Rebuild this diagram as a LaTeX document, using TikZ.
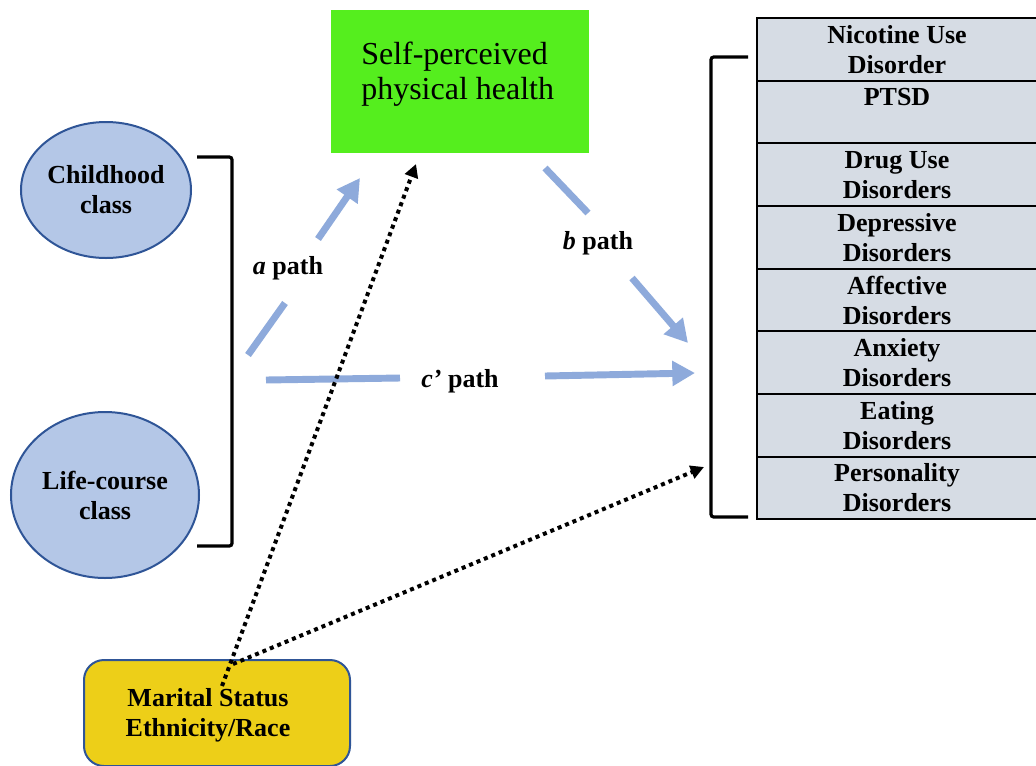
\documentclass[tikz,border=0pt]{standalone}
\usepackage{fontspec}
\setmainfont{Liberation Serif}
\usetikzlibrary{arrows.meta,positioning,shapes.geometric}
\definecolor{ink}{HTML}{000000}
\definecolor{navy}{HTML}{2F5597}
\definecolor{skyfill}{HTML}{B4C7E7}
\definecolor{limefill}{HTML}{55EE1E}
\definecolor{mustard}{HTML}{EDCF18}
\definecolor{greyblue}{HTML}{D6DCE4}
\definecolor{pathblue}{HTML}{8EAADB}
\tikzset{
  >=Latex,
  every node/.style={font=\fontsize{19.5}{22.5}\selectfont\bfseries,text=ink},
  classnode/.style={ellipse,draw=navy,line width=1.5pt,fill=skyfill,align=center,inner sep=0pt},
  healthbox/.style={draw=none,fill=limefill,minimum width=193.5pt,minimum height=107pt},
  outcome/.style={draw=ink,line width=1.5pt,fill=greyblue,align=center,minimum width=210pt,minimum height=47pt,inner sep=0pt,outer sep=0pt},
  covbox/.style={draw=navy,line width=1.5pt,fill=mustard,rounded corners=15pt,minimum width=199.5pt,minimum height=79.5pt},
  pathseg/.style={line width=5.2pt,draw=pathblue},
  patharr/.style={pathseg,-{Triangle[length=17pt,width=18pt]}},
  covarr/.style={-{Triangle[length=10pt,width=10pt]},draw=ink,line width=3pt,dash pattern=on 3pt off 3pt},
  pathlbl/.style={inner sep=1pt},
  bracket/.style={draw=ink,line width=2.4pt,rounded corners=2pt}
}
\begin{document}
\begin{tikzpicture}[x=0.75pt,y=-0.75pt,node distance=0pt]
  \path[use as bounding box,fill=white] (0,0) rectangle (1036,765);

  % exposures
  \node[classnode,minimum width=127.5pt,minimum height=102pt] (child) at (106,190) {Childhood\\class};
  \node[classnode,minimum width=141pt,minimum height=124.5pt] (life) at (105,495) {Life-course\\class};
  \draw[bracket] (197,157) -- (232,157) -- (232,546) -- (197,546);

  % mediator
  \node[healthbox] (health) at (460,81.5) {};
  \node[font=\fontsize{24}{26.3}\selectfont,align=left,anchor=west,inner sep=0pt] (healthtxt) at (361,74.5) {Self-perceived\\physical health};

  % outcomes
  \node[outcome] (nic) at (897,49.3) {Nicotine Use\\Disorder};
  \node[outcome,below=of nic] (ptsd) {PTSD\\\mbox{}};
  \node[outcome,below=of ptsd] (drug) {Drug Use\\Disorders};
  \node[outcome,below=of drug] (depr) {Depressive\\Disorders};
  \node[outcome,below=of depr] (affect) {Affective\\Disorders};
  \node[outcome,below=of affect] (anx) {Anxiety\\Disorders};
  \node[outcome,below=of anx] (eat) {Eating\\Disorders};
  \node[outcome,below=of eat] (pers) {Personality\\Disorders};
  \draw[bracket] (748,57) -- (711,57) -- (711,517) -- (748,517);

  % covariates
  \node[covbox] (cov) at (217,713) {};
  \node[align=center,inner sep=0pt] (covtxt) at (208,715) {Marital Status\\Ethnicity/Race};

  % a path
  \coordinate (a1) at (248,355);
  \coordinate (a2) at (285,303);
  \coordinate (a3) at (318,239);
  \coordinate (a4) at (360,178);
  \draw[pathseg] (a1) -- (a2);
  \draw[patharr] (a3) -- (a4);
  \node[pathlbl] (alab) at (288,268) {\textit{a} path};

  % b path
  \coordinate (b1) at (545,168);
  \coordinate (b2) at (588,213);
  \coordinate (b3) at (632,278);
  \coordinate (b4) at (688,343);
  \draw[pathseg] (b1) -- (b2);
  \draw[patharr] (b3) -- (b4);
  \node[pathlbl] (blab) at (598,243) {\textit{b} path};

  % c' path
  \coordinate (c1) at (266,380);
  \coordinate (c2) at (400,378);
  \coordinate (c3) at (545,376);
  \coordinate (c4) at (695,373);
  \draw[pathseg] (c1) -- (c2);
  \draw[patharr] (c3) -- (c4);
  \node[pathlbl] (clab) at (460,381) {\textit{c’} path};

  % covariate paths
  \coordinate (covA) at (222,686);
  \coordinate (covB) at (233,664);
  \coordinate (healthin) at (416,164);
  \coordinate (outin) at (704,467);
  \draw[covarr] (covA) -- (healthin);
  \draw[covarr] (covB) -- (outin);
\end{tikzpicture}
\end{document}
